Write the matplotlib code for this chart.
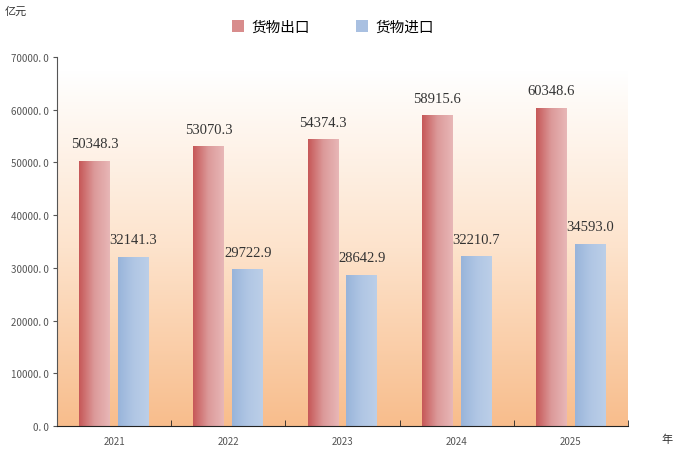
import numpy as np
import matplotlib
matplotlib.use("Agg")
import matplotlib.pyplot as plt
from matplotlib.colors import LinearSegmentedColormap
from matplotlib.patches import Patch

plt.rcParams['font.family'] = ['Noto Sans CJK SC', 'DejaVu Sans']

# data
years = ['2021', '2022', '2023', '2024', '2025']
exports = [50348.3, 53070.3, 54374.3, 58915.6, 60348.6]
imports = [32141.3, 29722.9, 28642.9, 32210.7, 34593.0]
series_names = ['货物出口', '货物进口']
yticks = [0, 10000, 20000, 30000, 40000, 50000, 60000, 70000]

fig = plt.figure(figsize=(6.77, 4.56), dpi=100)
ax = fig.add_axes([57 / 677, 1 - 427 / 456, 571 / 677, 369 / 456])

x = np.arange(len(years))
w = 0.27
off = 0.17
ax.set_xlim(-0.5, len(years) - 0.5)
ax.set_ylim(0, 70000)

# background gradient
bg_cmap = LinearSegmentedColormap.from_list('bg', ['#f8bd8c', '#fde3cc', '#ffffff'])
grad = np.linspace(0, 1, 256).reshape(-1, 1)
ax.imshow(grad, aspect='auto', cmap=bg_cmap, origin='lower',
          extent=(-0.5, len(years) - 0.5, 0, 67500), zorder=0)

exp_cmap = LinearSegmentedColormap.from_list('ex', ['#c65757', '#dc9a9a', '#e8b7b7'])
imp_cmap = LinearSegmentedColormap.from_list('im', ['#98b4da', '#b0c6e4', '#bccfe8'])
hgrad = np.linspace(0, 1, 256).reshape(1, -1)


def grad_bars(xs, vals, cmap):
    bars = ax.bar(xs, vals, width=w, color='none', zorder=2)
    for b in bars:
        x0, y0 = b.get_x(), b.get_y()
        im = ax.imshow(hgrad, aspect='auto', cmap=cmap,
                       extent=(x0, x0 + b.get_width(), y0, y0 + b.get_height()), zorder=2)
        im.set_clip_path(b)
    return bars


grad_bars(x - off, exports, exp_cmap)
grad_bars(x + off, imports, imp_cmap)
ax.set_xlim(-0.5, len(years) - 0.5)
ax.set_ylim(0, 70000)

for xi, v in zip(x - off, exports):
    ax.text(xi, v + 2000, f'{v:.1f}', ha='center', va='bottom', fontsize=10.5,
            family='Liberation Serif', color='#333333')
for xi, v in zip(x + off, imports):
    ax.text(xi, v + 2000, f'{v:.1f}', ha='center', va='bottom', fontsize=10.5,
            family='Liberation Serif', color='#333333')

# axes styling
for s in ['top', 'right']:
    ax.spines[s].set_visible(False)
ax.spines['left'].set_color('#555555')
ax.spines['bottom'].set_color('#222222')
ax.set_yticks(yticks)
ax.set_yticklabels([f'{t}. 0' if t else '0. 0' for t in yticks], fontsize=7, color='#555555')
ax.tick_params(axis='y', length=3, color='#555555', pad=3)
ax.set_xticks(x)
ax.set_xticklabels(years, fontsize=7, color='#555555')
ax.tick_params(axis='x', length=0, pad=7)
ax.set_xticks(np.arange(-0.5, len(years), 1.0)[1:], minor=True)
ax.tick_params(axis='x', which='minor', direction='in', length=4, color='#222222')

fig.text(5 / 677, 1 - 12 / 456, '亿元', fontsize=8, color='#333333', va='center')
fig.text(661 / 677, 1 - 440 / 456, '年', fontsize=8, color='#333333', va='center')

handles = [Patch(facecolor='#d88c8c'), Patch(facecolor='#a9c0e1')]
fig.legend(handles, series_names, loc='center', bbox_to_anchor=(333 / 677, 1 - 28 / 456),
           ncol=2, frameon=False, fontsize=10.5, handlelength=0.8, handleheight=0.8,
           columnspacing=3.2, handletextpad=0.5)

fig.savefig('out.png', dpi=100)
